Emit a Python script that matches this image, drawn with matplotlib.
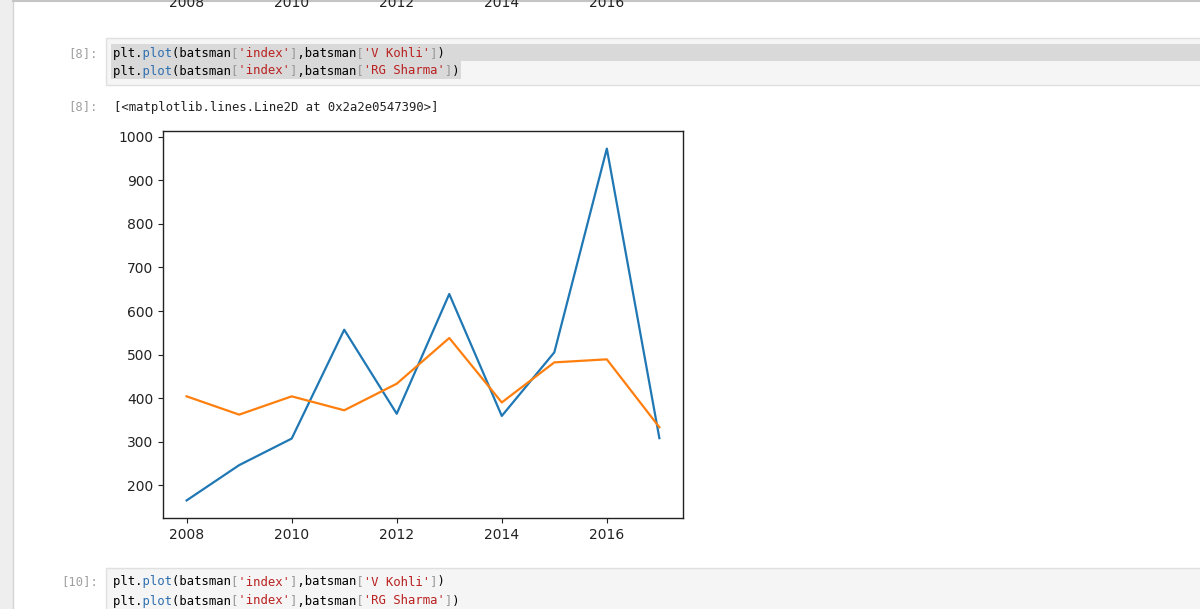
import matplotlib
matplotlib.use("Agg")
import matplotlib.pyplot as plt
import matplotlib.transforms as mtransforms
from matplotlib.patches import Rectangle

# ---- data ----
years = [2008, 2009, 2010, 2011, 2012, 2013, 2014, 2015, 2016, 2017]
kohli = [165, 246, 307, 557, 364, 639, 359, 505, 973, 308]
sharma = [404, 362, 404, 372, 433, 538, 390, 482, 489, 333]
prev_ticks = [2008, 2010, 2012, 2014, 2016]

code_line1 = [("plt", "#000000"), (".", "#000000"), ("plot", "#2f6fb0"), ("(", "#000000"),
              ("batsman", "#000000"), ("[", "#999999"), ("'index'", "#ba2121"), ("]", "#999999"),
              (",", "#000000"), ("batsman", "#000000"), ("[", "#999999"), ("'V Kohli'", "#ba2121"),
              ("]", "#999999"), (")", "#000000")]
code_line2 = [("plt", "#000000"), (".", "#000000"), ("plot", "#2f6fb0"), ("(", "#000000"),
              ("batsman", "#000000"), ("[", "#999999"), ("'index'", "#ba2121"), ("]", "#999999"),
              (",", "#000000"), ("batsman", "#000000"), ("[", "#999999"), ("'RG Sharma'", "#ba2121"),
              ("]", "#999999"), (")", "#000000")]
out_text = "[<matplotlib.lines.Line2D at 0x2a2e0547390>]"

W, H = 1200, 609
fig = plt.figure(figsize=(W / 100, H / 100), dpi=100)
fig.patch.set_facecolor("white")

# overlay in pixel coordinates (y downwards)
ov = fig.add_axes([0, 0, 1, 1], zorder=0)
ov.set_xlim(0, W)
ov.set_ylim(H, 0)
ov.axis("off")

# left gutter and top line
ov.add_patch(Rectangle((0, 0), 13, H, facecolor="#eeeeee", edgecolor="none"))
ov.plot([13, 13], [0, H], color="#d4d4d4", lw=1)
ov.plot([13, W], [0.8, 0.8], color="#c4c4c4", lw=1.5)

CODE_FS = 8.8
CW = CODE_FS * 100 / 72 * 0.602  # char width in px
mono = "DejaVu Sans Mono"

def draw_code(segments, x0, y):
    colors = []
    for s, c in segments:
        if c not in colors:
            colors.append(c)
    for col in colors:
        masked = "".join(s if c == col else " " * len(s) for s, c in segments)
        ov.text(x0, y, masked, color=col, fontsize=CODE_FS, family=mono,
                va="center", ha="left")

# cell [8]
ov.add_patch(Rectangle((106, 38), W - 106 + 5, 47, facecolor="#f5f5f5",
                       edgecolor="#e0e0e0", lw=1))
len2 = sum(len(s) for s, _ in code_line2)
ov.add_patch(Rectangle((111, 43.5), W - 111, 17.5, facecolor="#d9d9d9", edgecolor="none"))
ov.add_patch(Rectangle((111, 61), 113 - 111 + len2 * CW + 2, 17.5, facecolor="#d9d9d9",
                       edgecolor="none"))
ov.text(98, 53.5, "[8]:", color="#a0a0a0", fontsize=CODE_FS, family=mono, va="center", ha="right")
draw_code(code_line1, 113, 53.5)
draw_code(code_line2, 113, 71)

# output prompt
ov.text(98, 107, "[8]:", color="#a0a0a0", fontsize=CODE_FS, family=mono, va="center", ha="right")
ov.text(114, 107, out_text, color="#222222", fontsize=CODE_FS, family=mono, va="center", ha="left")

# cell [10]
ov.add_patch(Rectangle((106, 568), W - 106 + 5, 60, facecolor="#f5f5f5",
                       edgecolor="#e0e0e0", lw=1))
ov.text(98, 582, "[10]:", color="#a0a0a0", fontsize=CODE_FS, family=mono, va="center", ha="right")
draw_code(code_line1, 113, 582)
draw_code(code_line2, 113, 601)

# ---- main plot ----
left, right, top, bottom = 163, 683, 131, 518
ax = fig.add_axes([left / W, 1 - bottom / H, (right - left) / W, (bottom - top) / H], zorder=2)
ax.plot(years, kohli, color="#1f77b4", lw=1.6)
ax.plot(years, sharma, color="#ff7f0e", lw=1.6)
ax.set_xticks(prev_ticks)
ax.set_yticks([200, 300, 400, 500, 600, 700, 800, 900, 1000])
ax.tick_params(labelsize=10, labelcolor="#222222", color="#222222")
for sp in ax.spines.values():
    sp.set_color("#222222")
    sp.set_linewidth(1.0)

# previous plot tick labels at the cut-off top
trans = mtransforms.blended_transform_factory(ax.transData, ov.transData)
for t in prev_ticks:
    ov.text(t, 10, str(t), transform=trans, fontsize=10, color="#222222",
            ha="center", va="bottom")

fig.savefig("out.png", dpi=100)
